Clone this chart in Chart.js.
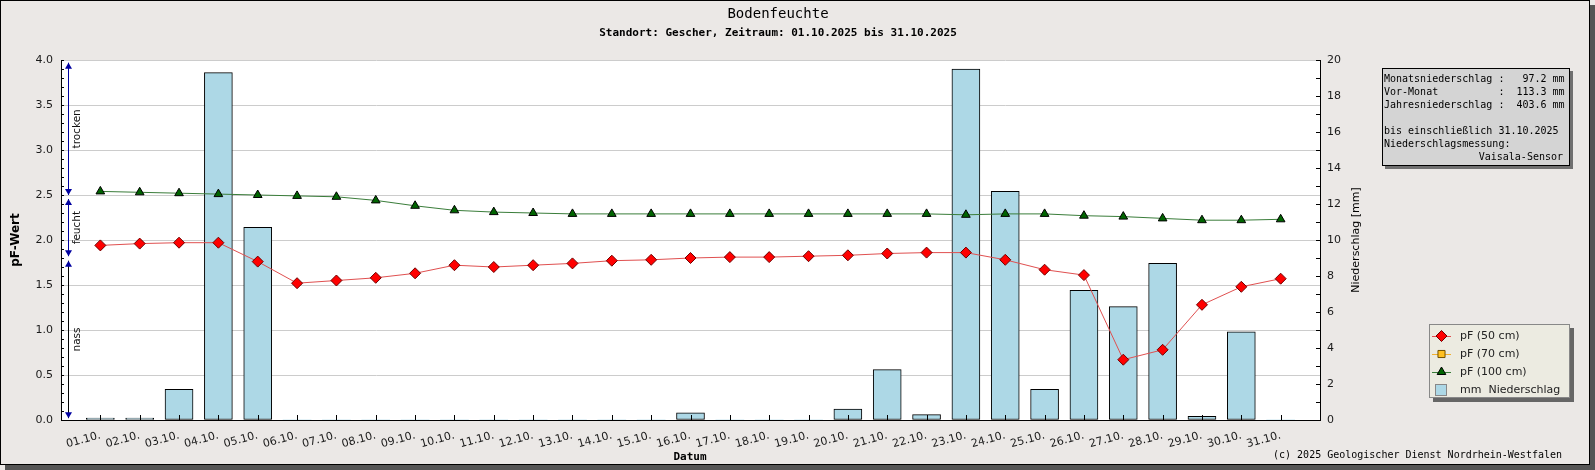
<!DOCTYPE html>
<html>
<head>
<meta charset="utf-8">
<title>Bodenfeuchte</title>
<script src="https://cdn.jsdelivr.net/npm/chart.js@4.4.0/dist/chart.umd.min.js"></script>
<style>
body{margin:0;background:#ebe8e6;}
#wrap{width:1595px;height:470px;}
</style>
</head>
<body>
<div id="wrap"><canvas id="soilChart" width="1595" height="470"></canvas></div>
<script>
// Werte
const days = [
  "01.10.","02.10.","03.10.","04.10.","05.10.","06.10.","07.10.","08.10.",
  "09.10.","10.10.","11.10.","12.10.","13.10.","14.10.","15.10.","16.10.",
  "17.10.","18.10.","19.10.","20.10.","21.10.","22.10.","23.10.","24.10.",
  "25.10.","26.10.","27.10.","28.10.","29.10.","30.10.","31.10."
];

const pf50 = [1.94,1.96,1.97,1.97,1.76,1.52,1.55,1.58,1.63,1.72,1.70,1.72,1.74,1.77,1.78,1.80,
              1.81,1.81,1.82,1.83,1.85,1.86,1.86,1.78,1.67,1.61,0.67,0.78,1.28,1.48,1.57];

const pf70 = [];

const pf100 = [2.54,2.53,2.52,2.51,2.50,2.49,2.48,2.44,2.38,2.33,2.31,2.30,2.29,2.29,2.29,2.29,
               2.29,2.29,2.29,2.29,2.29,2.29,2.28,2.29,2.29,2.27,2.26,2.24,2.22,2.22,2.23];

const rain = [0.1,0.1,1.7,19.3,10.7,0,0,0,0,0,0,0,0,0,0,0.4,
              0,0,0,0.6,2.8,0.3,19.5,12.7,1.7,7.2,6.3,8.7,0.2,4.9,0];

const zoneNames = ["trocken","feucht","nass"];
const zoneTop = [3.97,2.455,1.77];
const zoneBottom = [2.5,1.82,0.02];

const statsLines = [
  "Monatsniederschlag :   97.2 mm",
  "Vor-Monat          :  113.3 mm",
  "Jahresniederschlag :  403.6 mm",
  "",
  "bis einschließlich 31.10.2025",
  "Niederschlagsmessung:"
];
const statsSensor = "Vaisala-Sensor";

const mono = '"DejaVu Sans Mono", monospace';
const sans = '"DejaVu Sans", sans-serif';

Chart.defaults.font.family = sans;
Chart.defaults.font.size = 11;
Chart.defaults.color = "#1a1a1a";

// leere Kategorie links und rechts wie im Original
const labels = ["", ...days, ""];
const padded = arr => [null, ...arr, null];
const isHalf = v => Math.abs(v * 2 - Math.round(v * 2)) < 1e-6;

function arrowHead(ctx, x, tipY, dir){
  ctx.beginPath();
  ctx.moveTo(x, tipY);
  ctx.lineTo(x - 3.5, tipY - dir * 6);
  ctx.lineTo(x + 3.5, tipY - dir * 6);
  ctx.closePath();
  ctx.fill();
}

const extras = {
  id: "extras",
  beforeDraw(chart){
    const {ctx, chartArea: a} = chart;
    ctx.save();
    ctx.fillStyle = "#ebe8e6";
    ctx.fillRect(0, 0, chart.width, chart.height);
    ctx.fillStyle = "#555";
    ctx.fillRect(1590, 5, 5, 465);
    ctx.fillRect(5, 465, 1590, 5);
    ctx.strokeStyle = "#000";
    ctx.lineWidth = 1;
    ctx.strokeRect(0.5, 0.5, 1589, 464);
    ctx.fillStyle = "#fff";
    ctx.fillRect(a.left, a.top, a.right - a.left, a.bottom - a.top);
    ctx.restore();
  },
  afterDraw(chart){
    const {ctx, chartArea: a} = chart;
    const x = chart.scales.x, y = chart.scales.y, y1 = chart.scales.y1;
    ctx.save();

    // Skalenstriche nach innen
    ctx.strokeStyle = "#000";
    ctx.lineWidth = 1;
    ctx.beginPath();
    y.ticks.forEach(t => {
      const py = Math.round(y.getPixelForValue(t.value)) + 0.5;
      ctx.moveTo(a.left, py); ctx.lineTo(a.left + 3, py);
    });
    y1.ticks.forEach(t => {
      const py = Math.round(y1.getPixelForValue(t.value)) + 0.5;
      ctx.moveTo(a.right, py); ctx.lineTo(a.right - 4, py);
    });
    days.forEach((d, i) => {
      const px = Math.round(x.getPixelForValue(i + 1)) + 0.5;
      ctx.moveTo(px, a.bottom); ctx.lineTo(px, a.bottom - 5);
    });
    ctx.stroke();

    // Bereiche trocken / feucht / nass
    const ax = a.left + 7.5;
    zoneNames.forEach((name, i) => {
      const yt = y.getPixelForValue(zoneTop[i]);
      const yb = y.getPixelForValue(zoneBottom[i]);
      ctx.strokeStyle = i < 2 ? "#0000a0" : "#000";
      ctx.beginPath();
      ctx.moveTo(ax, yt); ctx.lineTo(ax, yb);
      ctx.stroke();
      ctx.fillStyle = "#0000a0";
      arrowHead(ctx, ax, yt, -1);
      arrowHead(ctx, ax, yb, 1);
      ctx.save();
      ctx.translate(ax + 8.5, (yt + yb) / 2);
      ctx.rotate(-Math.PI / 2);
      ctx.fillStyle = "#111";
      ctx.font = "10.5px " + sans;
      ctx.textAlign = "center";
      ctx.textBaseline = "middle";
      ctx.fillText(name, 0, 0);
      ctx.restore();
    });

    // Titel
    ctx.fillStyle = "#000";
    ctx.textAlign = "center";
    ctx.textBaseline = "middle";
    ctx.font = "14px " + mono;
    ctx.fillText("Bodenfeuchte", 778, 14);
    ctx.font = "bold 11px " + mono;
    ctx.fillText("Standort: Gescher, Zeitraum: 01.10.2025 bis 31.10.2025", 778, 33);
    ctx.fillText("Datum", 690, 457);

    // Achsentitel
    ctx.save();
    ctx.translate(16, 240);
    ctx.rotate(-Math.PI / 2);
    ctx.font = "bold 12px " + sans;
    ctx.fillText("pF-Wert", 0, 0);
    ctx.restore();
    ctx.save();
    ctx.translate(1356, 240);
    ctx.rotate(-Math.PI / 2);
    ctx.font = "11px " + sans;
    ctx.fillText("Niederschlag [mm]", 0, 0);
    ctx.restore();

    ctx.font = "10px " + mono;
    ctx.textAlign = "right";
    ctx.fillText("(c) 2025 Geologischer Dienst Nordrhein-Westfalen", 1562, 455);

    // Infobox Niederschlag
    ctx.fillStyle = "#707070";
    ctx.fillRect(1385, 71, 188, 98);
    ctx.fillStyle = "#d4d4d4";
    ctx.fillRect(1382, 68, 188, 98);
    ctx.strokeStyle = "#000";
    ctx.strokeRect(1382.5, 68.5, 187, 97);
    ctx.fillStyle = "#000";
    ctx.font = "10px " + mono;
    ctx.textAlign = "left";
    statsLines.forEach((line, i) => ctx.fillText(line, 1384, 79.5 + i * 13));
    ctx.textAlign = "right";
    ctx.fillText(statsSensor, 1563, 79.5 + 6 * 13);

    // Legende
    ctx.fillStyle = "#666";
    ctx.fillRect(1433, 328, 141, 74);
    ctx.fillStyle = "#ecebe1";
    ctx.fillRect(1429, 324, 141, 74);
    ctx.strokeStyle = "#888";
    ctx.strokeRect(1429.5, 324.5, 140, 73);
    ctx.font = "11px " + sans;
    ctx.textAlign = "left";
    chart.data.datasets.forEach((ds, i) => {
      const cy = 336 + i * 18;
      if (ds.type === "bar") {
        ctx.fillStyle = ds.backgroundColor;
        ctx.fillRect(1435, cy - 6, 12, 12);
        ctx.strokeStyle = "#888";
        ctx.strokeRect(1435.5, cy - 5.5, 11, 11);
      } else {
        ctx.strokeStyle = ds.borderColor;
        ctx.lineWidth = 1;
        ctx.beginPath();
        ctx.moveTo(1432, cy + 0.5); ctx.lineTo(1451, cy + 0.5);
        ctx.stroke();
        ctx.fillStyle = ds.pointBackgroundColor;
        ctx.strokeStyle = ds.pointBorderColor;
        Chart.helpers.drawPoint(ctx, {pointStyle: ds.pointStyle, radius: ds.pointRadius, rotation: 0, borderWidth: 1}, 1441.5, cy);
      }
      ctx.fillStyle = "#222";
      ctx.textBaseline = "middle";
      ctx.fillText(ds.label, 1460, cy);
    });

    ctx.restore();
  }
};

new Chart(document.getElementById("soilChart"), {

  data: {
    labels: labels,
    datasets: [
      {
        type: "line", label: "pF (50 cm)", data: padded(pf50), yAxisID: "y", order: 1,
        borderColor: "#e05050", borderWidth: 1, tension: 0,
        pointStyle: "rectRot", pointRadius: 5.5,
        pointBackgroundColor: "#ff0000", pointBorderColor: "#700000", pointBorderWidth: 1
      },
      {
        type: "line", label: "pF (70 cm)", data: padded(pf70), yAxisID: "y", order: 1,
        borderColor: "#f0b030", borderWidth: 1,
        pointStyle: "rect", pointRadius: 5,
        pointBackgroundColor: "#ffc020", pointBorderColor: "#705000", pointBorderWidth: 1
      },
      {
        type: "line", label: "pF (100 cm)", data: padded(pf100), yAxisID: "y", order: 1,
        borderColor: "#3a7d3a", borderWidth: 1, tension: 0,
        pointStyle: "triangle", pointRadius: 5,
        pointBackgroundColor: "#006400", pointBorderColor: "#000", pointBorderWidth: 1
      },
      {
        type: "bar", label: "mm  Niederschlag", data: padded(rain), yAxisID: "y1", order: 2,
        backgroundColor: "#add8e6", borderColor: "#000",
        borderWidth: c => (c.raw > 0 ? 1 : 0), borderSkipped: false,
        barThickness: 28
      }
    ]
  },

  options: {
    responsive: false,
    devicePixelRatio: 1,
    animation: false,
    events: [],
    layout: { padding: { top: 60, left: 0, right: 0, bottom: 0 } },
    plugins: {
      legend: { display: false },
      tooltip: { enabled: false }
    },
    scales: {
      x: {
        type: "category",
        offset: false,
        afterFit: s => { s.height = 50; },
        grid: { display: false, drawTicks: false },
        border: { color: "#000" },
        ticks: { autoSkip: false, minRotation: 15, maxRotation: 15, padding: 9 }
      },
      y: {
        position: "left",
        min: 0, max: 4,
        afterFit: s => { s.width = 61; },
        grid: { color: c => (isHalf(c.tick.value) ? "#cccccc" : "rgba(0,0,0,0)"), drawTicks: false },
        border: { color: "#000" },
        ticks: { stepSize: 0.1, autoSkip: false, padding: 8, callback: v => (isHalf(v) ? v.toFixed(1) : "") }
      },
      y1: {
        position: "right",
        min: 0, max: 20,
        afterFit: s => { s.width = 275; },
        grid: { drawOnChartArea: false, drawTicks: false },
        border: { color: "#000" },
        ticks: { stepSize: 1, autoSkip: false, padding: 7, callback: v => (v % 2 === 0 ? v : "") }
      }
    }
  },

  plugins: [extras]

});
</script>
</body>
</html>
